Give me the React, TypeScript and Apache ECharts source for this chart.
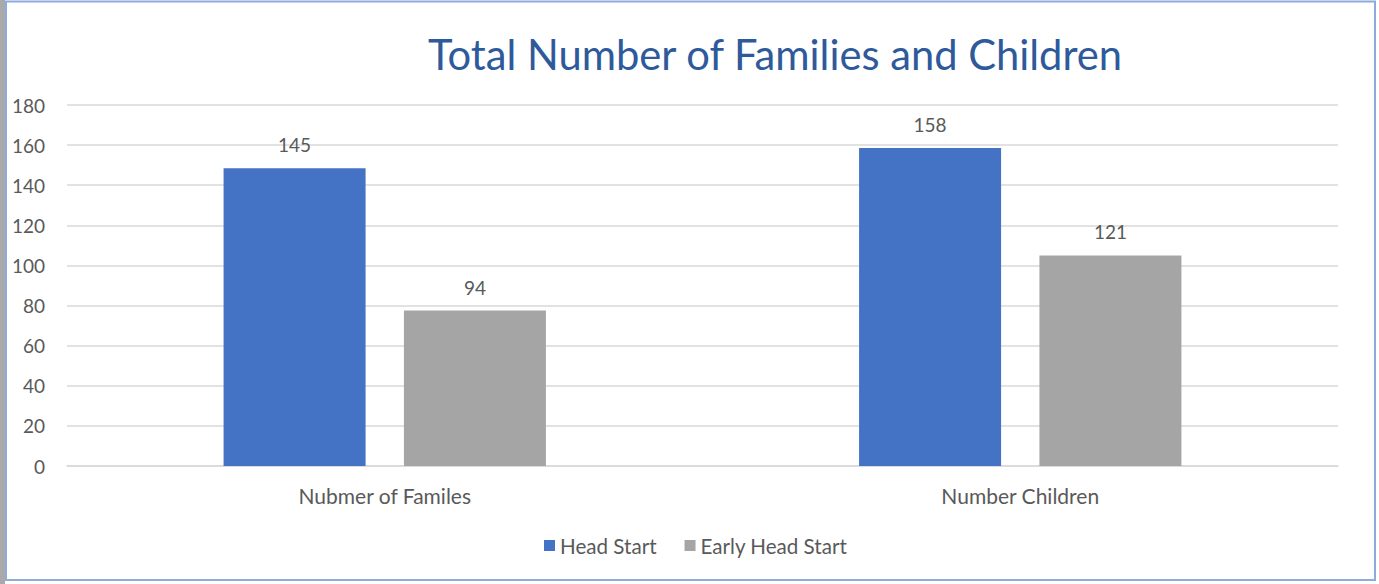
import React, { useEffect, useRef } from "react";
import * as echarts from "echarts";

const categories = ["Nubmer of Familes", "Number Children"];
const seriesNames = ["Head Start", "Early Head Start"];
// bar heights as drawn in the picture
const headStartValues = [148.5, 158.5];
const earlyHeadStartValues = [77.5, 105];
// data label texts as printed in the picture
const headStartLabels = ["145", "158"];
const earlyHeadStartLabels = ["94", "121"];
const yMin = 0;
const yMax = 180;
const yInterval = 20;

const FONT = "Lato";
const TEXT_COLOR = "#595959";

export default function App() {
  const ref = useRef<HTMLDivElement>(null);
  useEffect(() => {
    if (!ref.current) return;
    const chart = echarts.init(ref.current, undefined, { renderer: "svg" });
    const labelFor = (texts: string[]) => ({
      show: true,
      position: "top",
      distance: 14,
      color: TEXT_COLOR,
      fontFamily: FONT,
      fontSize: 19,
      formatter: (p: any) => texts[p.dataIndex],
    });
    chart.setOption({
      animation: false,
      backgroundColor: "#ffffff",
      textStyle: { fontFamily: FONT },
      title: {
        text: "Total Number of Families and Children",
        left: 423,
        top: 28,
        textStyle: {
          fontFamily: FONT,
          fontSize: 41.7,
          fontWeight: "normal",
          color: "#2E5A9B",
        },
      },
      legend: {
        left: 539,
        top: 530,
        itemWidth: 11,
        itemHeight: 11,
        itemGap: 28,
        icon: "rect",
        textStyle: { fontFamily: FONT, fontSize: 20.6, color: TEXT_COLOR },
        data: seriesNames,
      },
      grid: { left: 67, right: 41, top: 105, bottom: 118, containLabel: false },
      xAxis: {
        type: "category",
        data: categories,
        axisLine: { show: true, lineStyle: { color: "#D9D9D9", width: 1.5 } },
        axisTick: { show: false },
        axisLabel: { color: TEXT_COLOR, fontFamily: FONT, fontSize: 21, margin: 19 },
      },
      yAxis: {
        type: "value",
        min: yMin,
        max: yMax,
        interval: yInterval,
        axisLine: { show: false },
        axisTick: { show: false },
        splitLine: { lineStyle: { color: "#D9D9D9", width: 1.5 } },
        axisLabel: { color: TEXT_COLOR, fontFamily: FONT, fontSize: 19, margin: 22 },
      },
      series: [
        {
          name: seriesNames[0],
          type: "bar",
          data: headStartValues,
          barWidth: 142,
          barGap: "27%",
          itemStyle: { color: "#4472C4" },
          label: labelFor(headStartLabels),
        },
        {
          name: seriesNames[1],
          type: "bar",
          data: earlyHeadStartValues,
          barWidth: 142,
          itemStyle: { color: "#A5A5A5" },
          label: labelFor(earlyHeadStartLabels),
        },
      ],
      graphic: [
        {
          type: "rect",
          shape: { x: 0, y: 0, width: 5, height: 584 },
          style: { fill: "#A9A9A9" },
          silent: true,
        },
        {
          type: "rect",
          shape: { x: 6, y: 1.5, width: 1369, height: 578.5 },
          style: { fill: "none", stroke: "#8FAADC", lineWidth: 2 },
          silent: true,
        },
      ],
    });
    return () => chart.dispose();
  }, []);
  return (
    <div
      ref={ref}
      style={{ position: "fixed", left: 0, top: 0, width: 1379, height: 584, background: "#fff" }}
    />
  );
}
